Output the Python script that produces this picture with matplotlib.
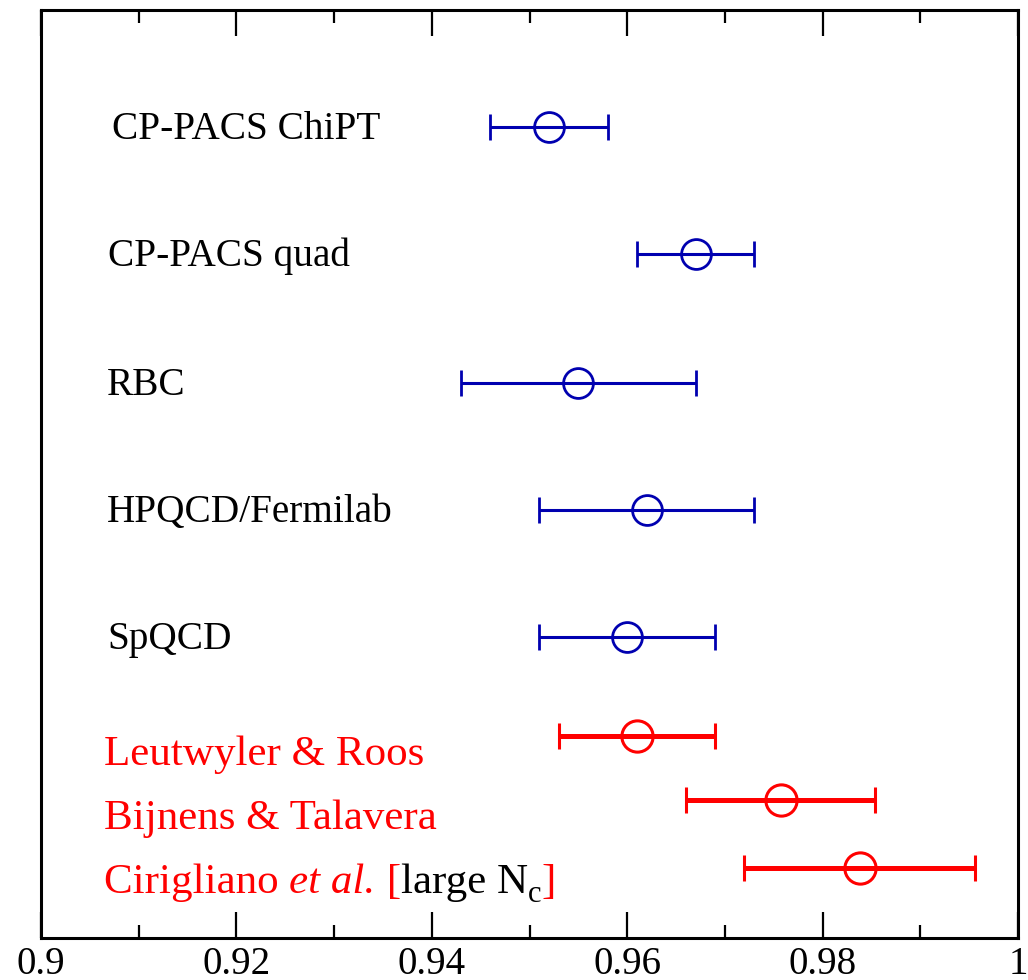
import matplotlib
matplotlib.use("Agg")
import matplotlib.pyplot as plt
from matplotlib.ticker import MultipleLocator

# ---------------- data ----------------
lattice_labels = ["CP-PACS ChiPT", "CP-PACS quad", "RBC", "HPQCD/Fermilab", "SpQCD"]
lattice_values = [0.952, 0.967, 0.955, 0.962, 0.960]
lattice_errors = [0.006, 0.006, 0.012, 0.011, 0.009]

analytic_labels = ["Leutwyler & Roos", "Bijnens & Talavera", "Cirigliano"]
analytic_values = [0.961, 0.9757, 0.9838]
analytic_errors = [0.008, 0.0097, 0.0118]

xticks = [0.9, 0.92, 0.94, 0.96, 0.98, 1.0]
xtick_labels = ["0.9", "0.92", "0.94", "0.96", "0.98", "1"]

# ---------------- layout ----------------
W, H = 1028, 980
DPI = 100
plt.rcParams['font.family'] = ['Liberation Serif', 'DejaVu Serif']

fig = plt.figure(figsize=(W / DPI, H / DPI), dpi=DPI)
ax_l, ax_r, ax_t, ax_b = 41, 1018, 10, 938
ax = fig.add_axes([ax_l / W, (H - ax_b) / H, (ax_r - ax_l) / W, (ax_b - ax_t) / H])
# y axis in pixel-like units (inverted)
ax.set_ylim(ax_b, ax_t)
ax.set_xlim(0.9, 1.0)

lattice_y = [127, 254, 383, 510, 637]
analytic_y = [736, 800, 868]
blue = '#0000b0'
red = '#ff0000'

ax.errorbar(lattice_values, lattice_y, xerr=lattice_errors, fmt='o', color=blue,
            mfc='none', mec=blue, ms=21.5, mew=2.0, elinewidth=2.2,
            capsize=9.7, capthick=2.2, zorder=3)
ax.errorbar(analytic_values, analytic_y, xerr=analytic_errors, fmt='o', color=red,
            mfc='none', mec=red, ms=22.5, mew=2.2, elinewidth=3.6,
            capsize=9.2, capthick=3.2, zorder=3)

# labels
lab_fs = 28.3
lattice_text_x = [112, 108, 107, 107, 107]
for lab, yy, xx in zip(lattice_labels, lattice_y, lattice_text_x):
    fig.text(xx / W, (H - (yy + 12)) / H, lab,
             fontsize=lab_fs, color='black', va='baseline', ha='left')

red_fs = 31
red_base = [765, 829, 893]
for lab, yb in zip(analytic_labels[:2], red_base[:2]):
    fig.text(104 / W, (H - yb) / H, lab, fontsize=red_fs, color=red,
             va='baseline', ha='left')

# composite label for Cirigliano et al. [large N_c]
renderer = fig.canvas.get_renderer()
x_px = 104
yb = red_base[2]
pieces = [
    ("Cirigliano ", red, 'normal', red_fs, 0),
    ("et al.", red, 'italic', red_fs, 0),
    (" [", red, 'normal', red_fs, 0),
    ("large N", 'black', 'normal', red_fs, 0),
    ("c", 'black', 'normal', 22, -9),
    ("]", red, 'normal', red_fs, 0),
]
for txt, col, sty, fs, dy in pieces:
    t = fig.text(x_px / W, (H - yb + dy) / H, txt, fontsize=fs, color=col,
                 style=sty, va='baseline', ha='left')
    bb = t.get_window_extent(renderer=renderer)
    x_px += bb.width

# axes styling
for sp in ax.spines.values():
    sp.set_linewidth(2.2)
ax.set_xticks(xticks)
ax.set_xticklabels(xtick_labels)
ax.xaxis.set_minor_locator(MultipleLocator(0.01))
ax.tick_params(axis='x', which='major', direction='in', length=19, width=1.6,
               top=True, bottom=True, labelsize=28, pad=6)
ax.tick_params(axis='x', which='minor', direction='in', length=9.5, width=1.6,
               top=True, bottom=True)
ax.set_yticks([])

fig.savefig("out.png", dpi=DPI)
